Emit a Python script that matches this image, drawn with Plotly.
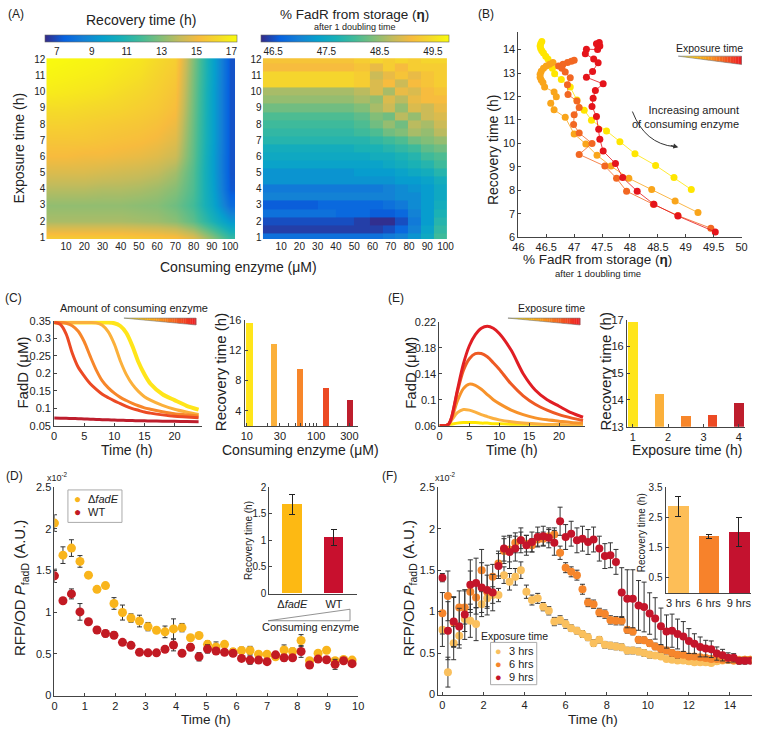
import plotly.graph_objects as go
import numpy as np

W, H = 760, 732
FONT = "Liberation Sans, Arial, sans-serif"


def px(X):
    return X / W


def py(Y):
    return 1 - Y / H

# ---------------- Panel A data ----------------
A_enzyme_left = [0, 10, 20, 30, 40, 50, 60, 70, 80, 90, 100]
A_exposure_left = [1, 2, 3, 4, 5, 6, 7, 8, 9, 10, 11, 12]
A_recovery = [
    [15.6, 15.6, 15.6, 15.6, 15.6, 15.5, 15.4, 15.2, 14.5, 13.0, 11.4],
    [13.6, 13.6, 13.6, 13.6, 13.6, 13.5, 13.4, 13.1, 12.3, 10.8, 9.3],
    [13.2, 13.2, 13.2, 13.2, 13.2, 13.1, 13.0, 12.6, 11.8, 10.0, 7.8],
    [13.8, 13.8, 13.8, 13.7, 13.7, 13.6, 13.4, 13.0, 12.0, 9.8, 7.2],
    [14.5, 14.5, 14.5, 14.4, 14.3, 14.2, 14.0, 13.5, 12.1, 9.7, 7.1],
    [15.1, 15.1, 15.0, 15.0, 14.9, 14.8, 14.6, 14.2, 12.3, 9.7, 7.1],
    [15.5, 15.5, 15.5, 15.4, 15.3, 15.2, 15.0, 14.6, 12.4, 9.8, 7.1],
    [15.9, 15.9, 15.8, 15.7, 15.6, 15.5, 15.3, 14.9, 12.5, 9.8, 7.1],
    [16.3, 16.3, 16.2, 16.1, 16.0, 15.8, 15.6, 15.2, 12.6, 9.8, 7.1],
    [16.8, 16.7, 16.6, 16.5, 16.3, 16.1, 15.8, 15.4, 12.7, 9.8, 7.1],
    [17.1, 17.0, 16.9, 16.8, 16.6, 16.4, 16.0, 15.6, 12.8, 9.9, 7.1],
    [17.3, 17.2, 17.1, 17.0, 16.8, 16.6, 16.2, 15.8, 12.9, 9.9, 7.1],
]

A_enzyme_right = [5, 15, 25, 35, 45, 55, 62, 69, 76, 83, 90, 97]
A_exposure_right = [1, 1.5, 2, 2.5, 3, 3.5, 4, 4.5, 5, 5.5, 6, 6.5, 7, 7.5, 8, 8.5,
                    9, 9.5, 10, 10.5, 11, 11.5, 12]
A_eta = [
    [46.8, 46.8, 46.8, 46.8, 46.8, 46.8, 46.8, 46.9, 47.0, 47.2, 47.5, 48.0],
    [46.4, 46.4, 46.4, 46.4, 46.4, 46.4, 46.4, 46.5, 46.7, 47.0, 47.4, 47.9],
    [46.5, 46.5, 46.5, 46.5, 46.5, 46.4, 46.3, 46.3, 46.5, 46.9, 47.3, 47.8],
    [46.8, 46.8, 46.8, 46.8, 46.7, 46.7, 46.6, 46.6, 46.7, 47.0, 47.3, 47.7],
    [46.6, 46.6, 46.6, 46.7, 46.7, 46.7, 46.7, 46.8, 46.9, 47.1, 47.3, 47.6],
    [47.0, 47.0, 47.0, 47.0, 47.0, 47.0, 47.0, 47.0, 47.1, 47.1, 47.3, 47.5],
    [46.9, 46.9, 46.9, 46.9, 46.9, 46.9, 46.9, 47.0, 47.1, 47.2, 47.3, 47.5],
    [47.2, 47.2, 47.2, 47.2, 47.2, 47.2, 47.2, 47.2, 47.3, 47.3, 47.4, 47.6],
    [47.2, 47.2, 47.2, 47.2, 47.2, 47.3, 47.3, 47.3, 47.4, 47.5, 47.6, 47.8],
    [47.4, 47.4, 47.4, 47.4, 47.4, 47.4, 47.4, 47.5, 47.6, 47.7, 47.8, 48.0],
    [47.5, 47.5, 47.5, 47.5, 47.5, 47.5, 47.6, 47.6, 47.7, 47.8, 48.0, 48.1],
    [47.6, 47.6, 47.6, 47.6, 47.6, 47.7, 47.7, 47.8, 47.9, 48.0, 48.2, 48.3],
    [47.8, 47.8, 47.8, 47.8, 47.8, 47.8, 47.9, 48.0, 48.1, 48.3, 48.4, 48.5],
    [47.9, 47.9, 47.9, 47.9, 47.9, 48.0, 48.1, 48.3, 48.4, 48.6, 48.5, 48.7],
    [48.0, 48.0, 48.0, 48.0, 48.0, 48.1, 48.3, 48.5, 48.3, 48.7, 48.6, 48.8],
    [48.1, 48.1, 48.1, 48.1, 48.1, 48.2, 48.4, 48.3, 48.7, 48.5, 48.8, 48.9],
    [48.3, 48.3, 48.3, 48.3, 48.3, 48.4, 48.6, 48.8, 48.5, 48.9, 48.8, 49.0],
    [48.5, 48.5, 48.5, 48.5, 48.5, 48.6, 48.5, 48.9, 48.7, 49.0, 49.1, 49.1],
    [48.6, 48.6, 48.6, 48.6, 48.6, 48.7, 48.9, 48.6, 49.0, 48.9, 49.1, 49.2],
    [49.4, 49.4, 49.4, 49.4, 49.4, 49.3, 48.9, 49.1, 48.8, 49.1, 49.2, 49.3],
    [49.4, 49.4, 49.4, 49.4, 49.4, 49.3, 48.8, 49.0, 49.2, 49.0, 49.2, 49.3],
    [49.1, 49.1, 49.1, 49.1, 49.1, 49.2, 49.0, 49.3, 49.1, 49.3, 49.3, 49.3],
    [49.2, 49.2, 49.2, 49.2, 49.2, 49.3, 49.4, 49.3, 49.4, 49.3, 49.4, 49.4],
]
A_rec_ticks = [7, 9, 11, 13, 15, 17]
A_eta_ticks = [46.5, 47.5, 48.5, 49.5]

# ---------------- Panel B data ----------------
B_eta_1 = [46.42, 46.40, 46.39, 46.40, 46.42, 46.45, 46.49, 46.53, 46.57, 46.61, 46.65,
           46.77, 46.93, 47.05, 47.18, 47.31, 47.58, 47.82, 48.09, 48.46, 48.79, 49.10]
B_rec_1 = [14.35, 14.25, 14.15, 14.05, 13.95, 13.85, 13.72, 13.6, 13.42, 13.2, 12.97,
           12.72, 12.4, 11.85, 11.41, 10.99, 10.53, 10.07, 9.56, 9.06, 8.54, 8.03]
B_eta_2 = [46.62, 46.56, 46.50, 46.45, 46.41, 46.39, 46.39, 46.41, 46.44, 46.47, 46.64, 46.68,
           46.58, 46.64, 46.84, 47.0, 47.21, 47.41, 47.66, 47.98, 48.39, 48.81, 49.22]
B_rec_2 = [13.45, 13.38, 13.3, 13.2, 13.08, 12.95, 12.82, 12.7, 12.6, 12.4, 12.19, 11.99,
           11.71, 11.43, 11.11, 10.4, 9.97, 9.49, 9.03, 8.51, 8.03, 7.54, 7.05]
B_eta_3 = [47.0, 46.95, 46.88, 46.8, 46.72, 46.78, 46.84, 46.93, 46.88, 46.89, 47.05, 47.09,
           47.0, 46.99, 47.09, 47.32, 47.09, 47.55, 47.76, 47.94, 48.42, 48.86, 49.45]
B_rec_3 = [13.55, 13.5, 13.45, 13.38, 13.3, 13.2, 13.05, 12.8, 12.5, 12.08, 11.81, 11.53,
           11.22, 10.81, 10.44, 10.0, 9.53, 9.03, 8.51, 7.96, 7.4, 6.92, 6.38]
B_eta_4 = [47.45, 47.40, 47.46, 47.42, 47.22, 47.2, 47.35, 47.43, 47.33, 47.22, 47.52, 47.38,
           47.34, 47.32, 47.4, 47.44, 47.46, 47.52, 47.74, 47.87, 48.13, 48.43, 48.86, 49.53]
B_rec_4 = [14.3, 14.25, 14.15, 14.0, 14.02, 13.82, 13.6, 13.44, 13.07, 12.82, 12.54, 12.26,
           11.92, 11.57, 11.15, 10.6, 10.18, 9.67, 9.14, 8.54, 7.96, 7.4, 6.9, 6.22]

# ---------------- Panel C data ----------------
C_time = [0, 1, 2, 3, 4, 5, 6, 7, 8, 9, 10, 11, 12, 13, 14, 15, 16, 18, 20, 22, 24]
C_fadd_10 = [0.345, 0.345, 0.345, 0.345, 0.345, 0.345, 0.345, 0.345, 0.345, 0.345, 0.343,
             0.335, 0.315, 0.278, 0.232, 0.197, 0.17, 0.14, 0.123, 0.107, 0.096]
C_fadd_30 = [0.345, 0.345, 0.345, 0.345, 0.345, 0.345, 0.345, 0.344, 0.337, 0.318, 0.283,
             0.235, 0.196, 0.168, 0.148, 0.133, 0.123, 0.108, 0.097, 0.089, 0.082]
C_fadd_100 = [0.345, 0.345, 0.343, 0.336, 0.32, 0.29, 0.248, 0.209, 0.178, 0.158, 0.143,
              0.131, 0.122, 0.114, 0.107, 0.101, 0.097, 0.09, 0.084, 0.081, 0.078]
C_fadd_300 = [0.345, 0.340, 0.312, 0.258, 0.217, 0.192, 0.17, 0.154, 0.14, 0.13, 0.121,
              0.113, 0.105, 0.099, 0.094, 0.089, 0.086, 0.081, 0.077, 0.075, 0.073]
C_fadd_max = [0.072, 0.0715, 0.071, 0.0705, 0.07, 0.0693, 0.0686, 0.068, 0.0673, 0.0667, 0.066,
              0.0655, 0.065, 0.0646, 0.0642, 0.0638, 0.0635, 0.063, 0.0625, 0.062, 0.0615]
C_enzyme = [10.8, 24, 57, 135, 305]
C_recovery = [15.6, 12.8, 9.5, 7.0, 5.5]
C_enzyme_ticks = [10, 20, 30, 40, 50, 60, 70, 80, 90, 100, 200, 300]
C_enzyme_ticklabels = ['10', '', '30', '', '', '', '', '', '', '100', '', '300']

# ---------------- Panel E data ----------------
E_time = [0, 1, 1.5, 2, 3, 4, 5, 6, 7, 8, 9, 10, 12, 14, 16, 18, 20, 22, 24]
E_fadd_1 = [0.06, 0.06, 0.061, 0.062, 0.064, 0.065, 0.065, 0.065, 0.064, 0.064, 0.063, 0.063,
            0.062, 0.062, 0.061, 0.061, 0.061, 0.06, 0.06]
E_fadd_2 = [0.06, 0.06, 0.062, 0.068, 0.08, 0.085, 0.084, 0.081, 0.077, 0.074, 0.071, 0.069,
            0.066, 0.064, 0.063, 0.062, 0.062, 0.061, 0.061]
E_fadd_3 = [0.06, 0.06, 0.062, 0.07, 0.098, 0.117, 0.124, 0.122, 0.116, 0.108, 0.1, 0.094,
            0.084, 0.077, 0.072, 0.069, 0.067, 0.065, 0.064]
E_fadd_4 = [0.06, 0.06, 0.062, 0.072, 0.112, 0.145, 0.163, 0.171, 0.171, 0.166, 0.157, 0.147,
            0.124, 0.106, 0.093, 0.084, 0.077, 0.072, 0.068]
E_fadd_5 = [0.06, 0.06, 0.062, 0.072, 0.115, 0.155, 0.183, 0.2, 0.21, 0.213, 0.21, 0.202,
            0.176, 0.14, 0.115, 0.1, 0.09, 0.08, 0.073]
E_exposure = [1, 1.75, 2.5, 3.25, 4]
E_recovery = [16.92, 14.22, 13.4, 13.43, 13.9]

# ---------------- Panel D data ----------------
D_time = [0, 0.28, 0.56, 0.84, 1.12, 1.4, 1.68, 1.96, 2.24, 2.52, 2.8, 3.08, 3.36, 3.64,
          3.92, 4.2, 4.48, 4.76, 5.04, 5.32, 5.6, 5.88, 6.16, 6.44, 6.72, 7.0, 7.28, 7.56,
          7.84, 8.12, 8.4, 8.68, 8.96, 9.24, 9.52, 9.8]
D_fadE = [2.07, 1.685, 1.77, 1.61, 1.445, 1.275, 1.32, 1.105, 0.996, 0.93, 0.894, 0.827,
          0.783, 0.764, 0.80, 0.815, 0.693, 0.72, 0.614, 0.583, 0.614, 0.524, 0.54, 0.54,
          0.496, 0.496, 0.465, 0.547, 0.528, 0.661, 0.417, 0.508, 0.543, 0.417, 0.433, 0.425]
D_fadE_err = [0.1, 0.1, 0.1, 0.07, 0.03, 0.03, 0.03, 0.07, 0.09, 0.05, 0.07, 0.05,
              0.03, 0.07, 0.12, 0.05, 0.03, 0.03, 0.04, 0.06, 0.03, 0.04, 0.04, 0.05,
              0.03, 0.03, 0.03, 0.06, 0.04, 0.07, 0.03, 0.03, 0.03, 0.03, 0.03, 0.03]
D_WT = [1.437, 1.138, 1.22, 1.004, 0.886, 0.787, 0.744, 0.724, 0.638, 0.602, 0.52, 0.512,
        0.512, 0.555, 0.606, 0.508, 0.579, 0.465, 0.559, 0.535, 0.52, 0.508, 0.445, 0.425,
        0.425, 0.406, 0.488, 0.453, 0.453, 0.528, 0.366, 0.437, 0.429, 0.374, 0.417, 0.382]
D_WT_err = [0.08, 0.03, 0.06, 0.1, 0.03, 0.04, 0.04, 0.04, 0.03, 0.03, 0.03, 0.03,
            0.03, 0.03, 0.07, 0.03, 0.04, 0.05, 0.05, 0.03, 0.03, 0.03, 0.03, 0.05,
            0.03, 0.03, 0.03, 0.04, 0.03, 0.07, 0.03, 0.03, 0.03, 0.06, 0.03, 0.03]
D_strains = ['Δ<i>fadE</i>', 'WT']
D_rec = [1.68, 1.05]
D_rec_err = [0.19, 0.15]

# ---------------- Panel F data ----------------
F_time = [0, 0.27, 0.55, 0.82, 1.09, 1.36, 1.64, 1.91,
          2.18, 2.45, 2.73, 3.0, 3.27, 3.55, 3.82, 4.09,
          4.36, 4.64, 4.91, 5.18, 5.45, 5.73, 6.0, 6.27,
          6.55, 6.82, 7.09, 7.36, 7.64, 7.91, 8.18, 8.45,
          8.73, 9.0, 9.27, 9.55, 9.82, 10.09, 10.36, 10.64,
          10.91, 11.18, 11.45, 11.73, 12.0, 12.27, 12.55, 12.82,
          13.09, 13.36, 13.64, 13.91, 14.18, 14.45, 14.73, 15.0]
F_3h = [0.78, 0.27, 0.62, 0.71, 0.91, 0.89, 0.85, 1.09,
        1.16, 1.2, 1.2, 1.44, 1.36, 1.42, 1.5, 1.24,
        1.14, 1.16, 1.06, 1.01, 0.88, 0.9, 0.85, 0.8,
        0.77, 0.73, 0.69, 0.62, 0.66, 0.6, 0.59, 0.58,
        0.57, 0.53, 0.53, 0.52, 0.5, 0.48, 0.47, 0.46,
        0.43, 0.42, 0.41, 0.41, 0.4, 0.39, 0.39, 0.39,
        0.38, 0.4, 0.41, 0.42, 0.41, 0.42, 0.42, 0.42]
F_3h_err = [0.2, 0.18, 0.2, 0.15, 0.15, 0.2, 0.2, 0.15,
            0.1, 0.1, 0.08, 0.1, 0.1, 0.1, 0.1, 0.08,
            0.06, 0.06, 0.05, 0.05, 0.05, 0.05, 0.05, 0.04,
            0.04, 0.04, 0.04, 0.04, 0.04, 0.04, 0.04, 0.04,
            0.04, 0.04, 0.04, 0.04, 0.04, 0.04, 0.03, 0.03,
            0.03, 0.03, 0.03, 0.03, 0.03, 0.03, 0.03, 0.03,
            0.03, 0.03, 0.03, 0.03, 0.03, 0.03, 0.03, 0.03]
F_6h = [0.98, 1.19, 0.87, 1.05, 1.05, 1.24, 1.17, 1.50,
        1.24, 1.42, 1.58, 1.73, 1.75, 1.83, 1.86, 1.82,
        1.80, 1.87, 1.88, 1.91, 1.93, 1.71, 1.53, 1.48,
        1.44, 1.27, 1.11, 1.09, 0.99, 0.97, 0.90, 0.89,
        0.89, 0.78, 0.76, 0.66, 0.655, 0.62, 0.58, 0.55,
        0.53, 0.50, 0.48, 0.48, 0.46, 0.46, 0.45, 0.44,
        0.43, 0.43, 0.42, 0.42, 0.41, 0.41, 0.42, 0.42]
F_6h_err = [0.25, 0.3, 0.3, 0.2, 0.2, 0.25, 0.2, 0.25,
            0.2, 0.15, 0.15, 0.15, 0.15, 0.12, 0.1, 0.1,
            0.08, 0.08, 0.08, 0.08, 0.08, 0.08, 0.06, 0.06,
            0.06, 0.06, 0.05, 0.05, 0.05, 0.05, 0.05, 0.05,
            0.05, 0.04, 0.04, 0.04, 0.04, 0.04, 0.04, 0.04,
            0.04, 0.04, 0.04, 0.03, 0.03, 0.03, 0.03, 0.03,
            0.03, 0.03, 0.03, 0.03, 0.03, 0.03, 0.03, 0.03]
F_9h = [1.41, 0.77, 0.88, 0.82, 0.965, 1.325, 1.345, 1.29,
        1.26, 1.23, 1.55, 1.76, 1.72, 1.76, 1.86, 1.80,
        1.84, 1.90, 1.91, 1.89, 1.83, 2.09, 1.90, 1.94,
        1.86, 1.88, 1.84, 1.87, 1.76, 1.67, 1.68, 1.60,
        1.23, 1.155, 1.155, 1.075, 1.056, 0.977, 0.918, 0.823,
        0.76, 0.77, 0.73, 0.70, 0.645, 0.613, 0.574, 0.554,
        0.546, 0.494, 0.475, 0.443, 0.443, 0.407, 0.407, 0.407]
F_9h_err = [0.05, 0.35, 0.3, 0.22, 0.3, 0.3, 0.3, 0.3,
            0.3, 0.22, 0.15, 0.15, 0.2, 0.15, 0.15, 0.12,
            0.12, 0.12, 0.12, 0.12, 0.15, 0.17, 0.15, 0.15,
            0.15, 0.15, 0.15, 0.15, 0.15, 0.15, 0.15, 0.15,
            0.3, 0.35, 0.35, 0.3, 0.3, 0.25, 0.25, 0.22,
            0.2, 0.2, 0.18, 0.18, 0.15, 0.12, 0.12, 0.1,
            0.1, 0.08, 0.07, 0.06, 0.05, 0.04, 0.04, 0.03]
F_groups = ['3 hrs', '6 hrs', '9 hrs']
F_rec = [2.87, 1.87, 2.02]
F_rec_err = [0.33, 0.08, 0.48]

# ---------------- styles ----------------
PARULA = [[0.0, '#352A87'], [0.1, '#0762E0'], [0.2, '#1480D6'], [0.3, '#06A0CD'],
          [0.4, '#18B0B7'], [0.5, '#42BB98'], [0.6, '#80BE79'], [0.7, '#C3BB5C'],
          [0.8, '#F7BB3E'], [0.9, '#F5D92A'], [1.0, '#F9FB0E']]
FIVE = ['#FFE51A', '#FBB03B', '#F7862A', '#EC4A24', '#BE1E2D']
B_COLORS = ['#FFE600', '#F9A51B', '#F26722', '#E5141B']
E_LINES = ['#FFE600', '#FBB040', '#F7922A', '#EE5A24', '#E01E24']
D_COLORS = ['#F9B51C', '#C21A23']
F_COLORS = ['#FAC05E', '#F6862C', '#C4152A']
TXT = '#222222'
AX = '#444444'

fig = go.Figure()

# Panel A heatmaps
fig.add_trace(go.Heatmap(
    x=A_enzyme_left, y=A_exposure_left, z=A_recovery, colorscale=PARULA,
    zmin=6.3, zmax=17.3, zsmooth='best', xaxis='x', yaxis='y',
    colorbar=dict(orientation='h', x=px(137), xanchor='center', y=py(29), yanchor='top',
                  len=192, lenmode='pixels', thickness=7, thicknessmode='pixels',
                  xpad=0, ypad=0, outlinewidth=0.6, outlinecolor='#666',
                  tickvals=A_rec_ticks, ticks='', tickfont=dict(size=10, color=TXT, family=FONT))))
fig.add_trace(go.Heatmap(
    x=A_enzyme_right, y=A_exposure_right, z=A_eta, colorscale=PARULA,
    zmin=46.27, zmax=49.8, xaxis='x2', yaxis='y2',
    colorbar=dict(orientation='h', x=px(355), xanchor='center', y=py(29), yanchor='top',
                  len=188, lenmode='pixels', thickness=7, thicknessmode='pixels',
                  xpad=0, ypad=0, outlinewidth=0.6, outlinecolor='#666',
                  tickvals=A_eta_ticks, ticks='', tickfont=dict(size=10, color=TXT, family=FONT))))

# Panel B
for xs, ys, c in [(B_eta_1, B_rec_1, B_COLORS[0]), (B_eta_2, B_rec_2, B_COLORS[1]),
                  (B_eta_3, B_rec_3, B_COLORS[2]), (B_eta_4, B_rec_4, B_COLORS[3])]:
    fig.add_trace(go.Scatter(x=xs, y=ys, mode='lines+markers', xaxis='x3', yaxis='y3',
                             line=dict(color=c, width=0.8),
                             marker=dict(color=c, size=7, line=dict(width=0)),
                             showlegend=False))

# Panel C
for ys, c, w in [(C_fadd_10, FIVE[0], 4), (C_fadd_30, FIVE[1], 3), (C_fadd_100, FIVE[2], 3),
                 (C_fadd_300, FIVE[3], 3), (C_fadd_max, FIVE[4], 3)]:
    fig.add_trace(go.Scatter(x=C_time, y=ys, mode='lines', xaxis='x4', yaxis='y4',
                             line=dict(color=c, width=w, shape='spline', smoothing=0.8),
                             showlegend=False))
fig.add_trace(go.Bar(x=np.log10(C_enzyme), y=C_recovery, width=0.09, xaxis='x5', yaxis='y5',
                     marker=dict(color=FIVE, line=dict(width=0)), showlegend=False))

# Panel E
for ys, c in zip([E_fadd_1, E_fadd_2, E_fadd_3, E_fadd_4, E_fadd_5], E_LINES):
    fig.add_trace(go.Scatter(x=E_time, y=ys, mode='lines', xaxis='x6', yaxis='y6',
                             line=dict(color=c, width=3, shape='spline', smoothing=0.8),
                             showlegend=False))
fig.add_trace(go.Bar(x=E_exposure, y=E_recovery, width=0.26, xaxis='x7', yaxis='y7',
                     marker=dict(color=FIVE, line=dict(width=0)), showlegend=False))

# Panel D
ERR = dict(type='data', color='#333', thickness=1, width=2.5)
fig.add_trace(go.Scatter(x=D_time, y=D_fadE, mode='markers', xaxis='x8', yaxis='y8',
                         name='ΔfadE', marker=dict(color=D_COLORS[0], size=9),
                         error_y=dict(array=D_fadE_err, **ERR), showlegend=False))
fig.add_trace(go.Scatter(x=D_time, y=D_WT, mode='markers', xaxis='x8', yaxis='y8',
                         name='WT', marker=dict(color=D_COLORS[1], size=9),
                         error_y=dict(array=D_WT_err, **ERR), showlegend=False))
fig.add_trace(go.Bar(x=[0, 1], y=D_rec, width=0.47, xaxis='x9', yaxis='y9',
                     marker=dict(color=['#FDB913', '#C8102E'], line=dict(width=0)),
                     error_y=dict(array=D_rec_err, type='data', color='#222', thickness=1, width=3),
                     showlegend=False))

# Panel F
for ys, es, c, nm in [(F_3h, F_3h_err, F_COLORS[0], '3 hrs'), (F_6h, F_6h_err, F_COLORS[1], '6 hrs'),
                      (F_9h, F_9h_err, F_COLORS[2], '9 hrs')]:
    fig.add_trace(go.Scatter(x=F_time, y=ys, mode='markers', xaxis='x10', yaxis='y10',
                             name=nm, marker=dict(color=c, size=8),
                             error_y=dict(array=es, **ERR), showlegend=False))
fig.add_trace(go.Bar(x=[0, 1, 2], y=F_rec, width=0.68, xaxis='x11', yaxis='y11',
                     marker=dict(color=['#FDBE57', '#F7822B', '#C4122F'], line=dict(width=0)),
                     error_y=dict(array=F_rec_err, type='data', color='#222', thickness=1, width=3),
                     showlegend=False))


def axis(dom, rng, line=True, ticks='inside', size=11, **kw):
    d = dict(domain=dom, range=rng, showgrid=False, zeroline=False, showline=line,
             linecolor=AX, linewidth=1, ticks=ticks, ticklen=3, tickcolor=AX,
             tickfont=dict(size=size, color=TXT, family=FONT), fixedrange=True)
    d.update(kw)
    return d


lay = {}
# A
lay['xaxis'] = axis([px(41), px(233)], [-0.8, 102.7], line=False, ticks='', size=10,
                    tickvals=[10, 20, 30, 40, 50, 60, 70, 80, 90, 100], anchor='y')
lay['yaxis'] = axis([py(237), py(53)], [0.88, 12.08], line=False, ticks='', size=10,
                    tickvals=list(range(1, 13)), anchor='x')
lay['xaxis2'] = axis([px(261), px(449)], [-0.2, 101], line=False, ticks='', size=10,
                     tickvals=[10, 20, 30, 40, 50, 60, 70, 80, 90, 100], anchor='y2')
lay['yaxis2'] = axis([py(237), py(53)], [0.88, 12.08], line=False, ticks='', size=10,
                     tickvals=list(range(1, 13)), anchor='x2')
# B
lay['xaxis3'] = axis([px(521.3), px(748.3)], [46, 50], anchor='y3',
                     tickvals=[46, 46.5, 47, 47.5, 48, 48.5, 49, 49.5, 50],
                     ticktext=['46', '46.5', '47', '47.5', '48', '48.5', '49', '49.5', '50'])
lay['yaxis3'] = axis([py(235), py(26.7)], [6, 14.74], anchor='x3', tickvals=list(range(6, 15)))
# C
lay['xaxis4'] = axis([px(49), px(199)], [0, 24.5], anchor='y4', tickvals=[0, 5, 10, 15, 20])
lay['yaxis4'] = axis([py(426.7), py(320)], [0.05, 0.35], anchor='x4',
                     tickvals=[0.05, 0.1, 0.15, 0.2, 0.25, 0.3, 0.35],
                     ticktext=['0.05', '0.1', '0.15', '0.2', '0.25', '0.3', '0.35'])
lay['xaxis5'] = axis([px(242.7), px(358)], [0.967, 2.6], anchor='y5',
                     tickvals=list(np.log10(C_enzyme_ticks)), ticktext=C_enzyme_ticklabels)
lay['yaxis5'] = axis([py(427), py(319)], [2, 16], anchor='x5', tickvals=[4, 8, 12, 16])
# E
lay['xaxis6'] = axis([px(441), px(588.7)], [0, 24.27], anchor='y6', tickvals=[0, 5, 10, 15, 20])
lay['yaxis6'] = axis([py(426.7), py(321)], [0.06, 0.22], anchor='x6',
                     tickvals=[0.06, 0.1, 0.14, 0.18, 0.22],
                     ticktext=['0.06', '0.1', '0.14', '0.18', '0.22'])
lay['xaxis7'] = axis([px(631.7), px(751.7)], [0.833, 4.17], anchor='y7', tickvals=[1, 2, 3, 4])
lay['yaxis7'] = axis([py(427.7), py(319)], [13, 17], anchor='x7', tickvals=[13, 14, 15, 16, 17])
# D
lay['xaxis8'] = axis([px(49.3), px(358.3)], [0, 10], anchor='y8', tickvals=list(range(0, 11)))
lay['yaxis8'] = axis([py(701), py(489.3)], [0, 2.5], anchor='x8',
                     tickvals=[0, 0.5, 1, 1.5, 2, 2.5], ticktext=['0', '0.5', '1', '1.5', '2', '2.5'])
lay['xaxis9'] = axis([px(268), px(357)], [-0.55, 1.55], anchor='y9', ticks='', size=11,
                     tickvals=[0, 1], ticktext=D_strains)
lay['yaxis9'] = axis([py(597.3), py(489.3)], [0, 2], anchor='x9', size=10,
                     tickvals=[0, 0.5, 1, 1.5, 2], ticktext=['0', '0.5', '1', '1.5', '2'])
# F
lay['xaxis10'] = axis([px(439.8), px(758.5)], [-0.2, 15.05], anchor='y10',
                      tickvals=[0, 2, 4, 6, 8, 10, 12, 14])
lay['yaxis10'] = axis([py(700), py(489.3)], [0, 2.5], anchor='x10',
                      tickvals=[0, 0.5, 1, 1.5, 2, 2.5], ticktext=['0', '0.5', '1', '1.5', '2', '2.5'])
lay['xaxis11'] = axis([px(671), px(758)], [-0.42, 2.4], anchor='y11', ticks='', size=11,
                      tickvals=[0, 1, 2], ticktext=F_groups)
lay['yaxis11'] = axis([py(596.7), py(489.3)], [0, 3.5], anchor='x11', size=10,
                      tickvals=[0.5, 1.5, 2.5, 3.5], ticktext=['0.5', '1.5', '2.5', '3.5'])


def ann(text, X, Y, size=12, angle=0, xanchor='center', yanchor='middle', align='center',
        color=TXT):
    return dict(text=text, x=px(X), y=py(Y), xref='paper', yref='paper', showarrow=False,
                font=dict(size=size, family=FONT, color=color), textangle=angle,
                xanchor=xanchor, yanchor=yanchor, align=align)


RFP = 'RFP/OD <i>P</i><sub>fadD</sub> (A.U.)'
anns = [
    ann('(A)', 10, 8, 12), ann('(B)', 488, 8, 12), ann('(C)', 8, 297, 12),
    ann('(E)', 397, 297, 12), ann('(D)', 9, 478, 12), ann('(F)', 390, 478, 12),
    ann('Recovery time (h)', 137, 14, 14),
    ann('% FadR from storage (<b>η</b>)', 355, 9, 13.5),
    ann('after 1 doubling time', 355, 21.5, 9),
    ann('Consuming enzyme (μM)', 237, 265, 14),
    ann('Exposure time (h)', 13, 145, 14, angle=-90),
    ann('Recovery time (h)', 495, 147, 14, angle=-90),
    ann('% FadR from storage (<b>η</b>)', 602, 257.5, 13.5),
    ann('after 1 doubling time', 602, 271.5, 9.5),
    ann('Exposure time', 716, 43, 10.5),
    ann('Increasing amount<br>of consuming enzyme', 748, 113, 11, xanchor='right', align='right'),
    ann('Amount of consuming enzyme', 130, 307, 11),
    ann('FadD (μM)', 17, 373, 15, angle=-90),
    ann('Time (h)', 123, 451, 14),
    ann('Recovery time (h)', 219, 372, 15, angle=-90),
    ann('Consuming enzyme (μM)', 300, 451, 14),
    ann('Exposure time', 555, 307, 10.5),
    ann('FadD (μM)', 412, 373, 15, angle=-90),
    ann('Time (h)', 515, 451, 14),
    ann('Recovery time (h)', 610, 372, 15, angle=-90),
    ann('Exposure time (h)', 693, 451, 14),
    ann(RFP, 15, 592, 15, angle=-90),
    ann('Time (h)', 203, 725, 13.5),
    ann('x10<sup>-2</sup>', 52, 479, 9),
    ann('Recovery time (h)', 246, 543, 10, angle=-90),
    ann('Consuming enzyme', 310, 631, 11),
    ann(RFP, 410, 592, 15, angle=-90),
    ann('Time (h)', 597, 725, 13.5),
    ann('x10<sup>-2</sup>', 447, 479, 9),
    ann('Recovery time (h)', 646, 535, 10, angle=-90),
    ann('Exposure time', 517, 640, 10.5),
    # legend D
    ann('●', 72.5, 501.5, 12, color=D_COLORS[0]), ann('Δ<i>fadE</i>', 81, 501.5, 11, xanchor='left'),
    ann('●', 72.5, 514.3, 12, color=D_COLORS[1]), ann('WT', 81, 514.3, 11, xanchor='left'),
    # legend F
    ann('●', 501.5, 656, 11, color=F_COLORS[0]), ann('3 hrs', 509.5, 656, 11, xanchor='left'),
    ann('●', 501.5, 669, 11, color=F_COLORS[1]), ann('6 hrs', 509.5, 669, 11, xanchor='left'),
    ann('●', 501.5, 682, 11, color=F_COLORS[2]), ann('9 hrs', 509.5, 682, 11, xanchor='left'),
]
# arrowhead at end of curved arrow in B
anns.append(dict(x=px(684), y=py(143.5), xref='paper', yref='paper', ax=-9, ay=-2,
                 axref='pixel', ayref='pixel', showarrow=True, arrowhead=2, arrowsize=1,
                 arrowwidth=1, arrowcolor='#333', text=''))


def lerp_color(f):
    stops = [(0.0, (255, 240, 0)), (0.5, (247, 148, 29)), (1.0, (237, 28, 36))]
    for (f0, c0), (f1, c1) in zip(stops[:-1], stops[1:]):
        if f <= f1:
            t = (f - f0) / (f1 - f0)
            return 'rgb(%d,%d,%d)' % tuple(round(a + (b - a) * t) for a, b in zip(c0, c1))
    return 'rgb(237,28,36)'


def wedge(x0, x1, ytop, ybot, n=40):
    out = []
    for i in range(n):
        f0, f1 = i / n, (i + 1) / n
        xa, xb = x0 + (x1 - x0) * f0, x0 + (x1 - x0) * f1
        ya, yb = ytop + (ybot - ytop) * f0, ytop + (ybot - ytop) * f1
        path = 'M %f,%f L %f,%f L %f,%f L %f,%f Z' % (
            px(xa), py(ytop), px(xb + 0.3), py(ytop), px(xb + 0.3), py(yb), px(xa), py(ya))
        out.append(dict(type='path', xref='paper', yref='paper', path=path,
                        fillcolor=lerp_color((f0 + f1) / 2), line=dict(width=0)))
    out.append(dict(type='path', xref='paper', yref='paper',
                    path='M %f,%f L %f,%f L %f,%f Z' % (px(x0), py(ytop), px(x1), py(ytop),
                                                        px(x1), py(ybot)),
                    line=dict(color='#777', width=0.6)))
    return out


def rect(x0, y0, x1, y1):
    return dict(type='rect', xref='paper', yref='paper', x0=px(x0), x1=px(x1), y0=py(y1),
                y1=py(y0), line=dict(color='#aaa', width=1), fillcolor='white', layer='above')


shapes = []
shapes += wedge(684, 748.3, 51, 59.5)
shapes += wedge(120, 193.3, 317.3, 324.3)
shapes += wedge(510.7, 584, 317.3, 324.3)
# D inset wedge (white)
shapes.append(dict(type='path', xref='paper', yref='paper',
                   path='M %f,%f L %f,%f L %f,%f Z' % (px(266.7), py(625), px(350), py(613.3),
                                                       px(350), py(625)),
                   fillcolor='white', line=dict(color='#777', width=0.8)))
# B curved arrow
shapes.append(dict(type='path', xref='paper', yref='paper',
                   path='M %f,%f Q %f,%f %f,%f' % (px(637.3), py(107.3), px(650), py(140),
                                                   px(680), py(143)),
                   line=dict(color='#333', width=1)))
# legend boxes
shapes.append(rect(63, 492, 118, 525))
shapes.append(rect(493, 647, 540, 690))

fig.update_layout(
    width=W, height=H, autosize=False, margin=dict(l=0, r=0, t=0, b=0),
    paper_bgcolor='white', plot_bgcolor='white', showlegend=False,
    font=dict(family=FONT, color=TXT), annotations=anns, shapes=shapes, bargap=0,
    **lay)

fig.write_html('out.html', config={'displayModeBar': False},
               post_script="document.body.style.margin='0px';document.body.style.overflow='hidden';")
